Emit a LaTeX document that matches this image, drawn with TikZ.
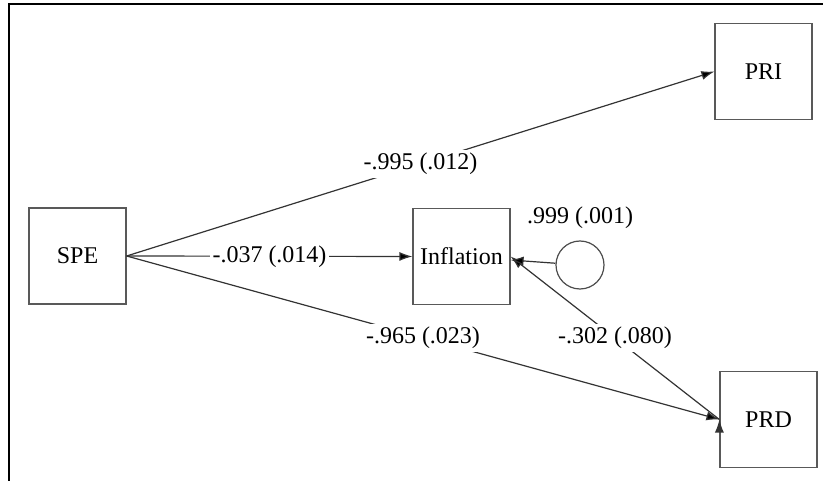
\documentclass[tikz,border=0pt]{standalone}
\usepackage{fontspec}
\setmainfont{Liberation Serif}
\usetikzlibrary{arrows.meta}

\begin{document}
\begin{tikzpicture}[x=1pt,y=-1pt,font=\fontsize{24}{28}\selectfont,
		var/.style={draw=black!65,line width=1.2pt,minimum width=97pt,minimum height=96pt,inner sep=0pt},
		err/.style={draw=black!70,line width=1.2pt,circle,minimum size=48pt,inner sep=0pt},
		lab/.style={fill=white,inner sep=3pt}]
		\useasboundingbox (0,0) rectangle (823,481);
		\draw[line width=1.5pt] (9,481) -- (9,4) -- (823,4);
		%
		\node[var] (SPE) at (77.5,256) {SPE};
		\node[var] (Inf) at (461.5,256.5) {Inflation};
		\node[var] (PRI) at (763.5,71.5) {PRI};
		\node[var] (PRD) at (768.5,419.5) {PRD};
		\node[err] (E) at (580,265) {};
		\node (Elab) at (580,218) {.999 (.001)};
		%
		\path[-{Latex[length=13pt,width=9pt]},draw=black!80,line width=1.2pt]
		(SPE.east) edge node[lab]{-.995 (.012)} (PRI.west)
		(SPE.east) edge node[lab]{-.037 (.014)} (Inf.west)
		(SPE.east) edge node[lab]{-.965 (.023)} (PRD.west)
		(PRD.west) edge node[lab]{-.302 (.080)} (Inf.east)
		(E) edge (Inf);
\end{tikzpicture}
\end{document}
